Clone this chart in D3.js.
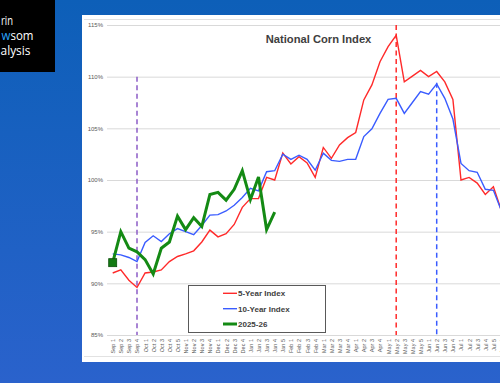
<!DOCTYPE html>
<html>
<head>
<meta charset="utf-8">
<script src="https://cdn.jsdelivr.net/npm/d3@7"></script>
<style>
  html, body { margin: 0; padding: 0; background: #1d60c2; }
  svg { display: block; }
</style>
</head>
<body>
<svg id="chart" width="500" height="383"></svg>
<script>
// ---------------- DATA ----------------
const categories = [
  "Sep 1","Sep 2","Sep 3","Sep 4",
  "Oct 1","Oct 2","Oct 3","Oct 4","Oct 5",
  "Nov 1","Nov 2","Nov 3","Nov 4",
  "Dec 1","Dec 2","Dec 3","Dec 4",
  "Jan 1","Jan 2","Jan 3","Jan 4","Jan 5",
  "Feb 1","Feb 2","Feb 3","Feb 4",
  "Mar 1","Mar 2","Mar 3","Mar 4",
  "Apr 1","Apr 2","Apr 3","Apr 4",
  "May 1","May 2","May 3","May 4","May 5",
  "Jun 1","Jun 2","Jun 3","Jun 4",
  "Jul 1","Jul 2","Jul 3","Jul 4","Jul 5",
  "Aug 1"
];

const fiveYearIndex = [
  91.0, 91.3, 90.3, 89.6,
  91.0, 91.1, 91.3, 92.1, 92.6,
  92.85, 93.15, 94.0, 95.15,
  94.5, 94.8, 95.7, 97.35,
  98.2, 98.2, 100.25, 100.0, 102.6,
  101.55, 102.25, 101.65, 100.25,
  103.15, 102.1, 103.4, 104.1,
  104.6, 107.75, 109.2, 111.45,
  112.9, 114.0, 109.5, 110.05, 110.6,
  110.0, 110.5, 109.5, 107.8,
  100.0, 100.25, 99.7, 98.6, 99.35,
  97.0
];

const tenYearIndex = [
  92.85, 92.75, 92.5, 92.1,
  93.95, 94.6, 94.05, 94.8, 95.3,
  95.0, 94.7, 95.6, 96.6,
  96.65, 97.0, 97.55, 98.3,
  99.2, 98.95, 100.8, 100.9, 102.5,
  102.0, 102.4, 102.0, 100.95,
  102.6, 101.9, 101.8, 102.0,
  102.0, 104.2, 104.95, 106.45,
  107.8, 107.9, 106.45, 107.5, 108.55,
  108.3, 109.3, 107.9, 105.9,
  101.6, 100.9, 100.75, 99.1, 99.0,
  97.0
];

const season2025 = [
  92.0, 95.0, 93.4, 93.05,
  92.3, 90.9, 93.4, 94.0, 96.5,
  95.2, 96.35, 95.5, 98.6,
  98.8, 98.05, 99.1, 100.9,
  98.1, 100.3, 95.2, 96.9
];

const yTicks = [85, 90, 95, 100, 105, 110, 115];

const seriesNames = ["5-Year Index", "10-Year Index", "2025-26"];
const seriesColors = ["#ff2a2a", "#3a5cff", "#148a14"];

const markerCats = ["Sep 4", "May 2", "Jun 2"];
const markerTops = [110, 115, 109.4];
const markerColors = ["#8c5cc6", "#ff2a2a", "#3a5cff"];

const titleText = "National Corn Index";
const logoLines = ["rin", "wsom", "alysis"];

// ---------------- DRAW ----------------
const svg = d3.select("#chart");

const defs = svg.append("defs");
const grad = defs.append("linearGradient").attr("id", "bg").attr("x1", 0).attr("y1", 0).attr("x2", 0).attr("y2", 1);
grad.append("stop").attr("offset", "0%").attr("stop-color", "#0d5fb8");
grad.append("stop").attr("offset", "100%").attr("stop-color", "#2a62cc");
svg.append("rect").attr("width", 500).attr("height", 383).attr("fill", "url(#bg)");

// logo box (cropped in the reference: only word tails are visible)
svg.append("rect").attr("x", 0).attr("y", 0).attr("width", 55).attr("height", 72).attr("fill", "#000");
const logo = svg.append("g").attr("font-family", "'Open Sans', sans-serif").attr("font-size", 12).attr("fill", "#fff");
logo.append("text").attr("x", 1).attr("y", 25).attr("textLength", 12).attr("lengthAdjust", "spacingAndGlyphs").text(logoLines[0]);
const l2 = logo.append("text").attr("x", 1.5).attr("y", 40).attr("textLength", 32).attr("lengthAdjust", "spacingAndGlyphs");
l2.append("tspan").attr("fill", "#2aa4ff").text(logoLines[1].slice(0, 1));
l2.append("tspan").text(logoLines[1].slice(1));
logo.append("text").attr("x", 0.5).attr("y", 54.5).attr("textLength", 30).attr("lengthAdjust", "spacingAndGlyphs").text(logoLines[2]);

// white panel
svg.append("rect").attr("x", 82).attr("y", 15).attr("width", 430).attr("height", 347).attr("fill", "#fff");
svg.append("line").attr("x1", 84).attr("x2", 510).attr("y1", 19.5).attr("y2", 19.5).attr("stroke", "#e2e2e2");
svg.append("line").attr("x1", 84).attr("x2", 510).attr("y1", 356.5).attr("y2", 356.5).attr("stroke", "#e2e2e2");

// scales
const x = d3.scalePoint().domain(categories).range([112.7, 112.7 + 8.1 * (categories.length - 1)]);
const y = d3.scaleLinear().domain([85, 115]).range([335, 25]);

// gridlines + y labels
const yAxis = d3.axisLeft(y).tickValues(yTicks).tickSize(-(520 - 107)).tickFormat(d => d + "%").tickPadding(4);
const gy = svg.append("g").attr("transform", "translate(107,0)").call(yAxis);
gy.select(".domain").remove();
gy.selectAll(".tick line").attr("stroke", "#d9d9d9").attr("stroke-width", 1);
gy.selectAll(".tick text").attr("fill", "#595959").attr("font-size", 6).attr("font-family", "'Liberation Sans', Arial, sans-serif");

// x labels
const xAxis = d3.axisBottom(x).tickSize(0).tickPadding(0);
const gx = svg.append("g").attr("transform", "translate(0,335)").call(xAxis);
gx.select(".domain").remove();
gx.selectAll(".tick text")
  .attr("font-size", 5.5)
  .attr("font-family", "'Liberation Sans', Arial, sans-serif")
  .attr("fill", "#595959")
  .attr("text-anchor", "end")
  .attr("transform", "rotate(-90)")
  .attr("x", -4)
  .attr("y", 0)
  .attr("dy", "0.35em");

// vertical dashed markers
markerCats.forEach((c, i) => {
  svg.append("line")
    .attr("x1", x(c)).attr("x2", x(c))
    .attr("y1", y(markerTops[i])).attr("y2", y(85))
    .attr("stroke", markerColors[i]).attr("stroke-width", 1.5)
    .attr("stroke-dasharray", "5,3.5");
});

// lines
const lineGen = d3.line().x((d, i) => x(categories[i])).y(d => y(d));
const allSeries = [fiveYearIndex, tenYearIndex, season2025];
const widths = [1.4, 1.4, 3];
allSeries.forEach((s, k) => {
  svg.append("path").datum(s)
    .attr("d", lineGen)
    .attr("fill", "none")
    .attr("stroke", seriesColors[k])
    .attr("stroke-width", widths[k])
    .attr("stroke-linejoin", "miter");
});

// first point marker for season
svg.append("rect")
  .attr("x", x(categories[0]) - 4).attr("y", y(season2025[0]) - 4)
  .attr("width", 8).attr("height", 8)
  .attr("fill", "#137a13").attr("stroke", "#0b4f0b").attr("stroke-width", 0.8);

// title
svg.append("text")
  .attr("x", 318.5).attr("y", 43)
  .attr("text-anchor", "middle")
  .attr("font-family", "'Liberation Sans', Arial, sans-serif")
  .attr("font-weight", "bold")
  .attr("font-size", 11.2)
  .attr("fill", "#404040")
  .text(titleText);

// legend
const lg = svg.append("g");
lg.append("rect").attr("x", 188.5).attr("y", 285.5).attr("width", 137).attr("height", 47)
  .attr("fill", "#fff").attr("stroke", "#595959").attr("stroke-width", 1);
const legY = [293.3, 308.7, 324];
seriesNames.forEach((n, k) => {
  lg.append("line").attr("x1", 223).attr("x2", 237).attr("y1", legY[k]).attr("y2", legY[k])
    .attr("stroke", seriesColors[k]).attr("stroke-width", widths[k]);
  lg.append("text").attr("x", 238).attr("y", legY[k]).attr("dy", "0.35em")
    .attr("font-family", "'Liberation Sans', Arial, sans-serif")
    .attr("font-weight", "bold").attr("font-size", 8).attr("fill", "#404040")
    .text(n);
});
</script>
</body>
</html>
